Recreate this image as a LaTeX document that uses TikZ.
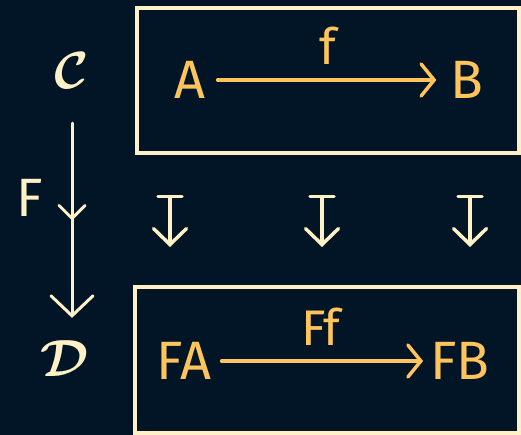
\documentclass[tikz,border=0pt]{standalone}
\usepackage{fontspec}
\setmainfont{Fira Sans}
\usetikzlibrary{positioning, arrows.meta, decorations.markings}
\definecolor{bgnavy}{HTML}{021526}
\definecolor{cream}{HTML}{FFF1C6}
\definecolor{amber}{HTML}{FFC45C}
\newcommand{\bigcat}[1]{\scalebox{2.1}{\Huge\boldmath$\mathcal{#1}$}}
\tikzset{
  % objects and categories
  obj/.style     = { text=amber, font=\fontsize{54}{58}\selectfont, inner sep=0pt },
  catname/.style = { text=cream, font=\fontsize{54}{58}\selectfont, inner sep=0pt },
  arrlabel/.style= { text=amber, font=\fontsize{50}{54}\selectfont, inner sep=0pt },
  % frames and arrows
  frame/.style   = { draw=cream, line width=3.5pt },
  morph/.style   = { amber, line width=3.5pt, line cap=round,
                     -{Straight Barb[length=13pt, width=32pt, line cap=round]} },
  functor/.style = { cream, line width=3pt, line cap=round,
                     -{Straight Barb[length=20pt, width=42pt, line cap=round]},
                     postaction={decorate},
                     decoration={markings, mark=at position 0.5 with
                       {\arrow{Straight Barb[length=13pt, width=26pt, line cap=round]}}} },
  mapsto/.style  = { cream, line width=3.5pt, line cap=round,
                     {Bar[width=24pt, line cap=round]}-{Straight Barb[length=16pt, width=33pt, line cap=round]} }
}
\begin{document}
\begin{tikzpicture}[x=1pt, y=-1pt]
  \useasboundingbox[fill=bgnavy] (0,0) rectangle (521,435);

  % --- category C with f : A -> B ---------------------------------
  \node[catname] (catC) at (72,71) {\bigcat{C}};
  \draw[frame] (137,8) rectangle (519,153);
  \node[obj] (objA) at (190,80) {A};
  \node[obj] (objB) at (467,80) {B};
  \draw[morph, shorten <=12pt, shorten >=14pt] (objA) -- node[arrlabel, above=14pt] (lblf) {f} (objB);

  % --- functor F : C -> D -------------------------------------------
  \node[catname] (catD) at (65,359) {\bigcat{D}};
  \coordinate (funEnd) at (catC.south |- catD.north);
  \draw[functor] ([yshift=-34pt]catC.south) -- ([yshift=23pt]funEnd);
  \node[catname] (lblF) at (30,198) {F};

  % --- maps-to arrows (x positions fixed per column) ----------------
  \foreach \i/\x in {1/170, 2/322, 3/470} {
    \coordinate (mtop\i) at (\x,195);
    \coordinate (mbot\i) at (\x,247);
    \draw[mapsto] (mtop\i) -- (mbot\i);
  }

  % --- image Ff : FA -> FB ------------------------------------------
  \draw[frame] (135,287) rectangle (519,433);
  \node[obj] (objFA) at (184,361) {FA};
  \node[obj] (objFB) at (460,361) {FB};
  \draw[morph, shorten <=10pt, shorten >=7pt] (objFA) -- node[arrlabel, above=14pt] (lblFf) {Ff} (objFB);

\end{tikzpicture}
\end{document}
